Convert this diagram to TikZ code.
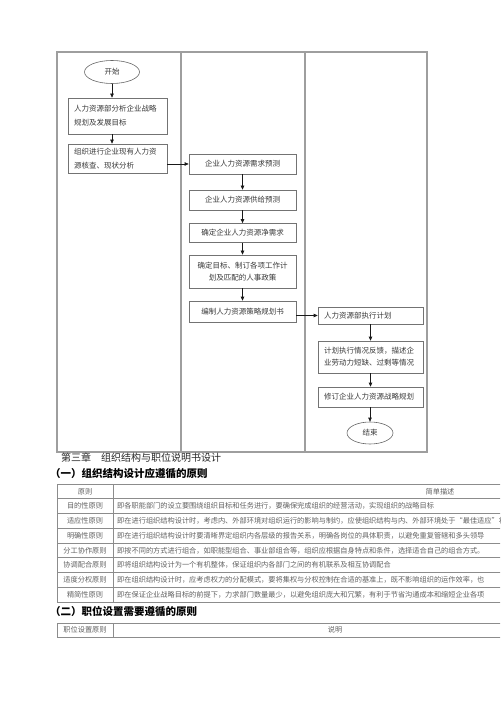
\documentclass[tikz,border=0pt]{standalone}
\usepackage{fontspec}
\setmainfont{Noto Sans CJK SC}
\usetikzlibrary{arrows.meta,positioning,shapes.geometric}

\begin{document}
\begin{tikzpicture}[x=1pt, y=-1pt, >={Triangle[length=4pt,width=3.4pt]},
  lane/.style={draw=black!38, line width=1.1pt},
  proc/.style={draw=black!55, line width=0.6pt, inner xsep=6pt, inner ysep=0pt, font=\fontsize{7.5}{12}\selectfont, text=black!78},
  term/.style={draw=black!60, line width=0.6pt, ellipse, inner sep=0pt, font=\fontsize{7.5}{9}\selectfont, text=black!78},
  flow/.style={->, draw=black!90, line width=0.6pt},
  grid/.style={draw=black!45, line width=0.6pt},
  cell/.style={inner sep=0pt, font=\fontsize{7.2}{9}\selectfont, text=black!62},
  head/.style={inner sep=0pt, anchor=west, text=black!85}]
\useasboundingbox (0,0) rectangle (500,708);
\begin{scope}
\clip (0,0) rectangle (500,708);

% swim lanes
\draw[lane] (57,52) rectangle (427,452);
\draw[lane] (181,52) -- (181,452);
\draw[lane] (305,52) -- (305,452);

% lane 1
\node[term, minimum width=55pt, minimum height=23pt] (start) at (112,72) {开始};
\node[proc, text width=87pt, minimum height=36pt, align=left, font=\fontsize{7.5}{14}\selectfont] (analyse) at (117.5,116) {人力资源部分析企业战略\\规划及发展目标};
\node[proc, text width=87pt, minimum height=29pt, align=left, font=\fontsize{7.5}{14}\selectfont] (check) at (117.5,158.5) {组织进行企业现有人力资\\源核查、现状分析};

% lane 2
\node[proc, text width=95pt, minimum height=20pt, align=center] (demand) at (242.5,164) {企业人力资源需求预测};
\node[proc, text width=95pt, minimum height=20pt, align=center] (supply) at (242.5,200) {企业人力资源供给预测};
\node[proc, text width=95pt, minimum height=19pt, align=center] (netneed) at (242.5,233) {确定企业人力资源净需求};
\node[proc, text width=95pt, minimum height=33pt, align=center] (policy) at (242.5,271.5) {确定目标、制订各项工作计\\划及匹配的人事政策};
\node[proc, text width=95pt, minimum height=21pt, align=center] (plan) at (242.5,311.5) {编制人力资源策略规划书};

% lane 3
\node[proc, text width=93pt, minimum height=17pt, align=left] (execute) at (370.5,315.5) {人力资源部执行计划};
\node[proc, text width=93pt, minimum height=32pt, align=left] (feedback) at (370.5,357) {计划执行情况反馈，描述企\\业劳动力短缺、过剩等情况};
\node[proc, text width=93pt, minimum height=20pt, align=left] (revise) at (370.5,397) {修订企业人力资源战略规划};
\node[term, minimum width=46pt, minimum height=22pt] (stop) at (370,433) {结束};

% connectors
\draw[flow] (start.south) -- (start.south |- analyse.north);
\draw[flow] (analyse.south -| start) -- (check.north -| start);
\draw[flow] (check.east |- demand.west) -- (demand.west);
\draw[flow] (demand) -- (supply);
\draw[flow] (supply) -- (netneed);
\draw[flow] (netneed) -- (policy);
\draw[flow] (policy) -- (plan);
\draw[flow] (plan.east |- execute.west) -- (execute.west);
\draw[flow] (execute) -- (feedback);
\draw[flow] (feedback) -- (revise);
\draw[flow] (revise.south -| stop) -- (stop.north);

% headings
\node[head, font=\fontsize{10}{12}\selectfont] (chapter) at (61,458) {第三章　组织结构与职位说明书设计};
\node[head, font=\fontsize{10.5}{12}\selectfont\bfseries, text=black] (secone) at (50,474) {（一）组织结构设计应遵循的原则};
\node[head, font=\fontsize{10.5}{12}\selectfont\bfseries, text=black] (sectwo) at (50,612) {（二）职位设置需要遵循的原则};

% table one
\draw[grid] (57,484) -- (510,484);
\draw[grid] (57,484) -- (57,602);
\draw[grid] (113,484) -- (113,602);
\node[cell] (hname) at (85,491.4) {原则};
\node[cell] (hdesc) at (440,491.4) {简单描述};
\foreach \name/\desc [count=\i] in {
  目的性原则/即各职能部门的设立要围绕组织目标和任务进行，要确保完成组织的经营活动，实现组织的战略目标,
  适应性原则/即在进行组织结构设计时，考虑内、外部环境对组织运行的影响与制约，应使组织结构与内、外部环境处于“最佳适应”状态,
  明确性原则/即在进行组织结构设计时要清晰界定组织内各层级的报告关系，明确各岗位的具体职责，以避免重复管辖和多头领导,
  分工协作原则/即按不同的方式进行组合，如职能型组合、事业部组合等，组织应根据自身特点和条件，选择适合自己的组合方式。,
  协调配合原则/即将组织结构设计为一个有机整体，保证组织内各部门之间的有机联系及相互协调配合,
  适度分权原则/即在组织结构设计时，应考虑权力的分配模式，要将集权与分权控制在合适的基准上，既不影响组织的运作效率，也,
  精简性原则/即在保证企业战略目标的前提下，力求部门数量最少，以避免组织庞大和冗繁，有利于节省沟通成本和缩短企业各项}{
  \pgfmathsetmacro{\ry}{484+14.75*\i}
  \draw[grid] (57,\ry) -- (510,\ry);
  \node[cell] (rn\i) at (85,\ry+7.4) {\name};
  \node[cell, anchor=west] (rd\i) at (117,\ry+7.4) {\desc};
}
\draw[grid] (57,602) -- (510,602);

% table two
\draw[grid] (57,623) rectangle (510,637);
\draw[grid] (113,623) -- (113,637);
\node[cell] (pname) at (85,630) {职位设置原则};
\node[cell] (pdesc) at (335,630) {说明};
\end{scope}
\end{tikzpicture}
\end{document}
